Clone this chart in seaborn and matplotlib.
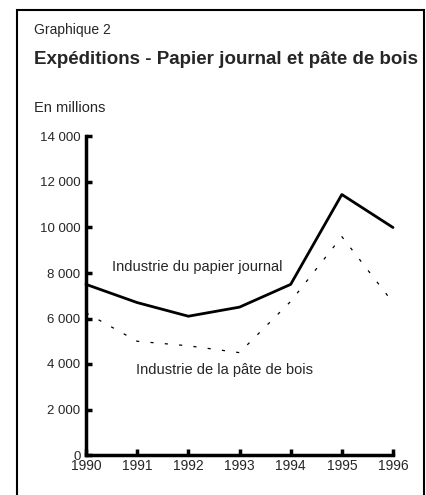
import matplotlib
matplotlib.use("Agg")
import matplotlib.pyplot as plt
import seaborn as sns
import pandas as pd
from matplotlib.patches import Rectangle

years = [1990, 1991, 1992, 1993, 1994, 1995, 1996]
papier_journal = [7500, 6700, 6100, 6500, 7500, 11450, 10000]
pate_de_bois = [6250, 5000, 4800, 4500, 6750, 9600, 6700]
y_ticks = [0, 2000, 4000, 6000, 8000, 10000, 12000, 14000]
y_tick_labels = ["0", "2 000", "4 000", "6 000", "8 000", "10 000", "12 000", "14 000"]

sns.set_style("white")
plt.rcParams['font.family'] = ['Liberation Sans Narrow', 'Liberation Sans', 'DejaVu Sans']

fig = plt.figure(figsize=(4.27, 4.95), dpi=100)
W, H = 427, 495
ax = fig.add_axes([86 / W, 1 - 455 / H, (393 - 86) / W, (455 - 136.5) / H])

df = pd.DataFrame({"year": years, "pj": papier_journal, "pb": pate_de_bois})
sns.lineplot(data=df, x="year", y="pj", ax=ax, color="black", lw=2.0, clip_on=False)
sns.lineplot(data=df, x="year", y="pb", ax=ax, color="black", lw=0.9,
             linestyle=(0, (2.5, 9)), clip_on=False)

ax.set_xlim(1990, 1996)
ax.set_ylim(0, 14000)
ax.set_xticks(years)
ax.set_xticklabels([str(y) for y in years], fontsize=10)
ax.set_yticks(y_ticks)
ax.set_yticklabels(y_tick_labels, fontsize=9.5)
ax.set_xlabel("")
ax.set_ylabel("")
for s in ["top", "right"]:
    ax.spines[s].set_visible(False)
for s in ["left", "bottom"]:
    ax.spines[s].set_linewidth(2.5)
    ax.spines[s].set_color("black")
    ax.spines[s].set_capstyle("projecting")
ax.tick_params(axis="both", direction="in", length=4, width=2.5, color="black",
               left=True, bottom=True)
ax.tick_params(axis="y", pad=4)
ax.tick_params(axis="x", pad=3)
ax.patch.set_alpha(0)

ax.text(1992.18, 8270, "Industrie du papier journal", fontsize=10.5, ha="center", va="center")
ax.text(1992.7, 3740, "Industrie de la pâte de bois", fontsize=10.5, ha="center", va="center")

fig.text(34 / W, 1 - 34 / H, "Graphique 2", fontsize=10, ha="left", va="baseline")
fig.text(34 / W, 1 - 64 / H, "Expéditions - Papier journal et pâte de bois", fontsize=13.5,
         fontweight="bold", ha="left", va="baseline")
fig.text(34 / W, 1 - 112 / H, "En millions", fontsize=10.5, ha="left", va="baseline")

fig.patches.append(Rectangle((17.5 / W, -0.05), (424 - 17.5) / W, 1 - 9.5 / H + 0.05,
                             transform=fig.transFigure, fill=False, lw=1.5,
                             edgecolor="black"))

fig.savefig("out.png", dpi=100)
